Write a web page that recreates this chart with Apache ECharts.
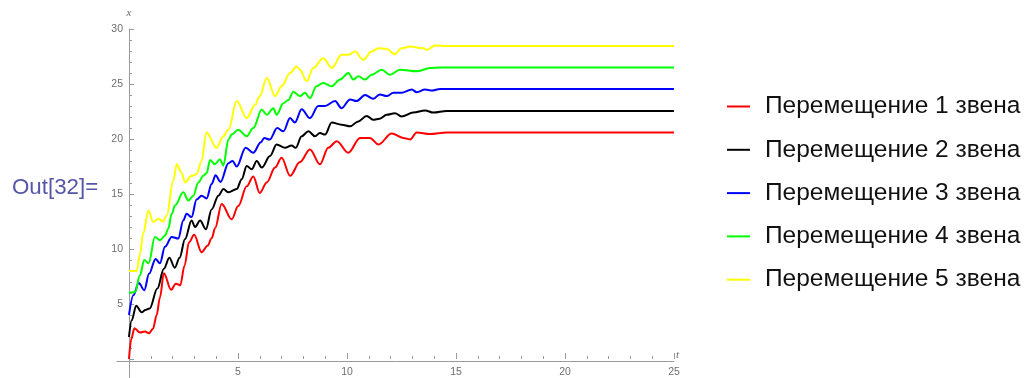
<!DOCTYPE html>
<html>
<head>
<meta charset="utf-8">
<script src="https://cdn.jsdelivr.net/npm/echarts@6/dist/echarts.min.js"></script>
<style>
  html, body { margin: 0; padding: 0; background: #fff; }
  #chart { width: 1028px; height: 378px; }
</style>
</head>
<body>
<div id="chart"></div>
<script>
// Displacement of each link over time: [t, x] samples
const link1 = [[0,0],[0.1,1.8],[0.25,2.8],[0.5,2.4],[0.73,2.5],[0.92,2.35],[1.1,2.75],[1.27,4.0],[1.42,5.6],[1.6,7.8],[1.93,6.3],[2.15,6.85],[2.35,6.7],[2.55,8.5],[2.75,10.6],[2.99,11.3],[3.33,9.7],[3.6,10.3],[3.8,11.0],[3.95,11.9],[4.25,14.1],[4.71,12.7],[5.01,13.9],[5.4,15.7],[5.7,16.6],[6.0,15.1],[6.32,16.05],[6.7,17.4],[7.0,18.3],[7.39,16.65],[7.84,17.9],[8.3,19.05],[8.76,17.7],[9.14,19.2],[9.53,19.8],[10.06,18.75],[10.6,20.1],[11.05,20.1],[11.44,19.5],[12.05,20.5],[12.58,20.1],[12.89,19.96],[13.2,20.6],[13.8,20.45],[14.57,20.6],[25,20.6]];
const link2 = [[0,2],[0.12,3.5],[0.33,4.85],[0.58,4.25],[0.75,4.45],[0.95,4.6],[1.3,6.4],[1.6,8.2],[1.85,9.2],[2.1,8.3],[2.32,9.2],[2.57,10.9],[2.87,12.6],[3.03,12.0],[3.26,12.6],[3.53,11.8],[3.79,13.6],[4.1,14.85],[4.33,15.45],[4.56,15.15],[4.94,15.45],[5.17,16.35],[5.4,17.55],[5.63,17.25],[5.86,18.0],[6.09,17.4],[6.47,18.45],[6.77,19.5],[7.16,19.2],[7.46,19.4],[7.65,19.2],[7.92,20.25],[8.23,20.7],[8.53,20.25],[8.76,20.55],[8.99,20.4],[9.3,21.5],[9.75,21.3],[10.14,21.15],[10.52,21.6],[10.9,22.1],[11.2,21.75],[11.5,21.85],[11.82,22.2],[12.2,22.35],[12.5,22.05],[13.04,22.4],[13.58,22.6],[13.96,22.4],[14.57,22.55],[25,22.55]];
const link3 = [[0,4],[0.2,5.8],[0.45,6.9],[0.7,6.25],[0.92,7.75],[1.22,9.1],[1.42,8.7],[1.65,10.2],[1.96,11.1],[2.26,10.95],[2.49,12.6],[2.64,13.2],[2.87,12.9],[3.1,14.5],[3.33,14.85],[3.56,14.6],[3.79,15.9],[3.97,16.7],[4.2,16.1],[4.56,17.8],[4.75,18.0],[4.94,17.5],[5.35,19.2],[5.7,18.75],[6.05,19.7],[6.2,20.1],[6.45,19.95],[6.8,21.0],[7.08,20.7],[7.39,21.9],[7.61,21.5],[7.92,22.7],[8.3,21.9],[8.68,23.0],[8.99,23.0],[9.45,23.45],[9.75,22.8],[10.14,23.6],[10.44,23.45],[10.83,24.0],[11.2,23.65],[11.5,24.05],[11.82,23.9],[12.13,24.2],[12.5,24.2],[12.97,24.5],[13.2,24.25],[13.58,24.5],[13.9,24.4],[14.27,24.55],[25,24.55]];
const link4 = [[0,6],[0.28,6.1],[0.5,7.6],[0.7,9.0],[0.9,8.7],[1.19,11.1],[1.42,10.8],[1.65,11.2],[1.8,11.85],[1.96,13.2],[2.11,13.95],[2.49,15.15],[2.72,14.4],[2.95,14.85],[3.18,16.05],[3.41,16.65],[3.56,16.9],[3.72,18.1],[3.94,17.7],[4.17,18.15],[4.33,17.6],[4.56,19.95],[4.71,20.4],[5.01,20.85],[5.4,20.25],[5.7,21.0],[6.09,22.65],[6.32,22.2],[6.62,22.8],[6.77,22.2],[7.08,23.25],[7.31,23.55],[7.54,24.3],[7.84,23.9],[8.07,24.2],[8.3,23.7],[8.6,24.8],[8.91,25.1],[9.3,24.8],[9.68,25.4],[10.06,26.0],[10.29,25.4],[10.52,25.7],[10.83,25.4],[11.13,25.85],[11.59,26.3],[11.97,25.85],[12.43,26.3],[13.2,26.15],[13.8,26.45],[14.27,26.5],[25,26.5]];
const link5 = [[0,8],[0.35,8.0],[0.5,9.5],[0.66,11.5],[0.89,13.5],[1.11,12.45],[1.34,12.75],[1.57,12.5],[1.73,13.05],[2.03,16.2],[2.19,17.7],[2.41,16.95],[2.57,16.05],[2.87,16.65],[3.1,16.8],[3.33,18.0],[3.55,20.6],[4.02,19.2],[4.33,20.25],[4.56,20.85],[4.94,23.45],[5.4,21.9],[5.78,23.1],[6.0,23.9],[6.32,25.55],[6.7,23.9],[7.0,24.8],[7.39,26.0],[7.69,26.6],[7.84,26.3],[8.15,25.25],[8.45,26.45],[8.91,27.35],[9.3,26.45],[9.75,27.65],[10.06,27.65],[10.37,27.95],[10.75,27.2],[11.13,27.95],[11.44,28.25],[11.8,28.2],[12.2,27.7],[12.5,28.25],[12.89,28.4],[13.5,28.25],[13.65,28.1],[14.04,28.5],[14.57,28.45],[25,28.45]];

const seriesNames = ['Перемещение 1 звена', 'Перемещение 2 звена', 'Перемещение 3 звена', 'Перемещение 4 звена', 'Перемещение 5 звена'];
const seriesColors = ['#ff0000', '#000000', '#0000ff', '#00ff00', '#ffff00'];
const seriesData = [link1, link2, link3, link4, link5];

const xTicks = { min: 0, max: 25, step: 5 };
const yTicks = { min: 0, max: 30, step: 5 };

const axisGray = '#9a9a9a';
const labelGray = '#6e6e6e';

const chart = echarts.init(document.getElementById('chart'), null, { renderer: 'canvas' });

const option = {
  animation: false,
  backgroundColor: '#ffffff',
  title: {
    text: 'Out[32]=',
    left: 7,
    top: 172,
    textStyle: { fontFamily: 'Liberation Sans', fontSize: 22.3, fontWeight: 'normal', color: '#5656a6' }
  },
  legend: {
    orient: 'vertical',
    left: 722,
    top: 89,
    icon: 'rect',
    itemWidth: 23,
    itemHeight: 2,
    itemGap: 18.3,
    data: seriesNames,
    textStyle: { fontFamily: 'Liberation Sans', fontSize: 24.5, color: '#111', lineHeight: 24, padding: [0, 0, 0, 10] }
  },
  grid: [
    // plotting area with ticks and labels
    { left: 129, right: 354, top: 29, bottom: 17 },
    // axis lines crossing at the origin, extended past it
    { left: 117, right: 354, top: 29, bottom: 0 }
  ],
  xAxis: [
    {
      type: 'value', gridIndex: 0,
      min: xTicks.min, max: xTicks.max, interval: xTicks.step,
      axisLine: { show: false },
      axisTick: { show: true, inside: true, length: 6, lineStyle: { color: axisGray } },
      minorTick: { show: true, splitNumber: 5, length: 3, lineStyle: { color: axisGray } },
      axisLabel: { color: labelGray, fontFamily: 'Liberation Sans', fontSize: 10.5, margin: 8, showMinLabel: false },
      splitLine: { show: false }
    },
    {
      type: 'value', gridIndex: 1,
      min: -0.55, max: xTicks.max,
      axisLine: { show: true, onZero: true, lineStyle: { color: axisGray, width: 1 } },
      axisTick: { show: false }, axisLabel: { show: false }, splitLine: { show: false },
      name: 't', nameLocation: 'end', nameGap: 2,
      nameTextStyle: { color: labelGray, fontStyle: 'italic', fontFamily: 'Liberation Serif', fontSize: 11, verticalAlign: 'bottom', padding: [0, 0, 0, 0] }
    }
  ],
  yAxis: [
    {
      type: 'value', gridIndex: 0,
      min: yTicks.min, max: yTicks.max, interval: yTicks.step,
      axisLine: { show: false },
      axisTick: { show: true, inside: true, length: 5, lineStyle: { color: axisGray } },
      minorTick: { show: true, splitNumber: 5, length: 3, lineStyle: { color: axisGray } },
      axisLabel: { color: labelGray, fontFamily: 'Liberation Sans', fontSize: 10.5, margin: 6, showMinLabel: false },
      splitLine: { show: false }
    },
    {
      type: 'value', gridIndex: 1,
      min: -1.54, max: yTicks.max,
      axisLine: { show: true, onZero: true, lineStyle: { color: axisGray, width: 1 } },
      axisTick: { show: false }, axisLabel: { show: false }, splitLine: { show: false },
      name: 'x', nameLocation: 'end', nameGap: 10,
      nameTextStyle: { color: labelGray, fontStyle: 'italic', fontFamily: 'Liberation Serif', fontSize: 11 }
    }
  ],
  series: seriesData.map((d, i) => ({
    name: seriesNames[i],
    type: 'line',
    xAxisIndex: 0,
    yAxisIndex: 0,
    data: d,
    symbol: 'none',
    smooth: 0.35,
    smoothMonotone: 'x',
    color: seriesColors[i],
    lineStyle: { width: 2, color: seriesColors[i] },
    z: 2 + i
  }))
};

chart.setOption(option);
</script>
</body>
</html>
